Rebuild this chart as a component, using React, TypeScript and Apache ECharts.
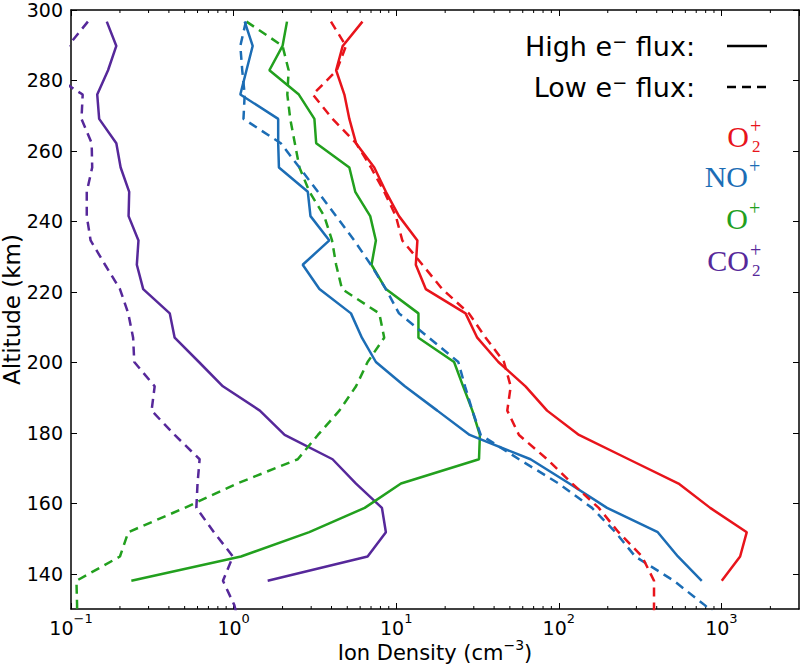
import React, { useEffect, useRef } from "react";
import * as echarts from "echarts";

// Altitude grids (km)
const ALT_HIGH = [296.7, 289.8, 282.9, 276.0, 269.1, 262.2, 255.3, 248.4, 241.5, 234.6, 227.7, 220.8, 213.9, 207.0, 200.1, 193.2, 186.3, 179.4, 172.5, 165.6, 158.7, 151.8, 144.9, 138.0];
const ALT_LOW = [296.7, 289.8, 282.9, 276.0, 269.1, 262.2, 255.3, 248.4, 241.5, 234.6, 227.7, 220.8, 213.9, 207.0, 200.1, 193.2, 186.3, 179.4, 172.5, 165.6, 158.7, 151.8, 144.9, 138.0, 131.1, 124.2];

// Ion densities (cm^-3)
const O2_HIGH = [6.2, 4.69, 4.27, 4.8, 5.15, 5.66, 7.33, 8.64, 10.4, 13.5, 13.2, 15.2, 26.7, 31.5, 42.5, 62.4, 84.7, 133, 269, 545, 853, 1432, 1303, 1005];
const O2_LOW = [3.97, 4.91, 4.31, 3.07, 4.06, 5.66, 7.0, 8.44, 9.95, 10.9, 14.5, 19.2, 28.0, 35.5, 46, 50.6, 48.2, 56.9, 84.7, 121, 176, 233, 325, 385, 385, 385];
const NO_HIGH = [1.17, 1.31, 1.2, 1.1, 1.88, 1.88, 1.9, 2.86, 2.97, 3.88, 2.66, 3.37, 5.27, 6.15, 7.5, 11.3, 17.9, 28.3, 67, 116, 198, 406, 540, 757];
const NO_LOW = [1.19, 1.1, 1.13, 1.17, 1.15, 1.95, 2.54, 3.3, 4.27, 5.52, 6.98, 8.64, 10.4, 15.9, 24.1, 26.5, 29.4, 33.1, 56.9, 100, 160, 223, 295, 510, 790, 1150];
const OP_HIGH = [2.13, 2.0, 1.66, 2.52, 3.14, 3.22, 5.15, 5.6, 6.92, 7.5, 7.05, 8.64, 13.7, 13.7, 22.7, 25.8, 29.4, 32.7, 32.3, 10.7, 6.4, 2.92, 1.11, 0.235];
const OP_LOW = [1.2, 2.0, 2.18, 2.14, 2.23, 2.38, 2.54, 2.93, 3.61, 4.03, 4.27, 4.64, 7.87, 8.44, 6.67, 5.66, 4.47, 3.3, 2.48, 1.05, 0.5, 0.225, 0.2, 0.108, 0.109, 0.109];
const CO2_HIGH = [0.166, 0.19, 0.169, 0.145, 0.149, 0.19, 0.202, 0.228, 0.226, 0.26, 0.254, 0.278, 0.405, 0.434, 0.612, 0.859, 1.45, 2.06, 4.06, 5.66, 8.17, 8.64, 6.67, 1.62];
const CO2_LOW = [0.127, 0.096, 0.069, 0.118, 0.116, 0.134, 0.135, 0.125, 0.125, 0.132, 0.162, 0.2, 0.225, 0.241, 0.245, 0.327, 0.313, 0.434, 0.618, 0.6, 0.59, 0.757, 0.99, 0.86, 1.01, 1.1];

const Y_TICKS = [140, 160, 180, 200, 220, 240, 260, 280, 300];
const X_MIN = 0.1;
const X_MAX = 3000;

const RED = "#e8141b";
const BLUE = "#1c6db5";
const GREEN = "#22a01e";
const PURPLE = "#56289a";

const SANS = '"DejaVu Sans", sans-serif';
const SERIF = '"Liberation Serif", serif';

export default function App() {
  const ref = useRef<HTMLDivElement>(null);

  useEffect(() => {
    if (!ref.current) return;
    const chart = echarts.init(ref.current, null, { renderer: "svg" });

    const minorTicks: number[][] = [];
    for (let e = -1; e <= 3; e++) {
      for (let m = 2; m <= 9; m++) {
        const v = m * Math.pow(10, e);
        if (v < X_MAX) minorTicks.push([v, 200]);
      }
    }

    const mk = (name: string, xs: number[], alts: number[], color: string, dashed: boolean) => ({
      type: "line",
      name,
      data: xs.map((v, i) => [v, alts[i]]),
      symbol: "none",
      showSymbol: false,
      clip: true,
      z: 3,
      lineStyle: { color, width: 2.5, type: dashed ? [9, 6] : "solid", cap: "butt" },
      itemStyle: { color },
    });

    const xLabelFmt = (v: number) => {
      const l = Math.log10(v);
      const e = Math.round(l);
      if (Math.abs(l - e) > 1e-6) return "";
      return `{b|10}{s|${e < 0 ? "\u2212" + -e : e}}`;
    };

    const axisLine = { show: true, onZero: false, lineStyle: { color: "#000", width: 1.5 } };
    const tickStyle = { color: "#000", width: 1 };

    const supText = (main: string, sub: string | null, color: string, xr: number, yc: number) => {
      const children: any[] = [
        {
          type: "text",
          x: xr,
          y: yc,
          style: { text: main, font: `30px ${SERIF}`, fill: color, align: "right", verticalAlign: "middle" },
        },
        {
          type: "text",
          x: xr + 1,
          y: yc - 10,
          style: { text: "+", font: `20px ${SERIF}`, fill: color, align: "left", verticalAlign: "middle", lineHeight: 16 },
        },
      ];
      if (sub) {
        children.push({
          type: "text",
          x: xr + 3,
          y: yc + 10,
          style: { text: sub, font: `17px ${SERIF}`, fill: color, align: "left", verticalAlign: "middle", lineHeight: 15 },
        });
      }
      return { type: "group", children };
    };

    const option: any = {
      animation: false,
      backgroundColor: "#fff",
      grid: { left: 71, right: 1, top: 10, bottom: 57, containLabel: false, outerBoundsMode: "none" },
      xAxis: [
        {
          type: "log",
          logBase: 10,
          min: X_MIN,
          max: X_MAX,
          position: "bottom",
          axisLine,
          axisTick: { show: true, inside: true, length: 6, lineStyle: tickStyle },
          splitLine: { show: false },
          axisLabel: {
            formatter: xLabelFmt,
            margin: 3,
            color: "#000",
            showMaxLabel: false,
            rich: {
              b: { fontSize: 19, fontFamily: SANS, color: "#000", lineHeight: 25, verticalAlign: "bottom" },
              s: { fontSize: 13, fontFamily: SANS, color: "#000", lineHeight: 13, verticalAlign: "top" },
            },
          },
          name: "{a|Ion Density (cm}{s|\u22123}{a|)}",
          nameLocation: "middle",
          nameGap: 29,
          nameMoveOverlap: false,
          nameTextStyle: {
            rich: {
              a: { fontSize: 21, fontFamily: SANS, color: "#000", lineHeight: 25, verticalAlign: "bottom" },
              s: { fontSize: 14, fontFamily: SANS, color: "#000", lineHeight: 14, verticalAlign: "top" },
            },
          },
        },
        {
          type: "log",
          logBase: 10,
          min: X_MIN,
          max: X_MAX,
          position: "top",
          axisLine,
          axisTick: { show: true, inside: true, length: 6, lineStyle: tickStyle },
          splitLine: { show: false },
          axisLabel: { show: false },
        },
      ],
      yAxis: [
        {
          type: "value",
          min: 130,
          max: 300,
          position: "left",
          axisLine,
          axisTick: { show: true, inside: true, length: 6, lineStyle: tickStyle, customValues: Y_TICKS },
          splitLine: { show: false },
          axisLabel: { customValues: Y_TICKS, fontSize: 19, fontFamily: SANS, color: "#000", margin: 8 },
          name: "Altitude (km)",
          nameLocation: "middle",
          nameRotate: 90,
          nameGap: 48,
          nameMoveOverlap: false,
          nameTextStyle: { fontSize: 23, fontFamily: SANS, color: "#000" },
        },
        {
          type: "value",
          min: 130,
          max: 300,
          position: "right",
          axisLine,
          axisTick: { show: true, inside: true, length: 6, lineStyle: tickStyle, customValues: Y_TICKS },
          splitLine: { show: false },
          axisLabel: { show: false },
        },
      ],
      series: [
        mk("CO2+ low", CO2_LOW, ALT_LOW, PURPLE, true),
        mk("CO2+ high", CO2_HIGH, ALT_HIGH, PURPLE, false),
        mk("O+ low", OP_LOW, ALT_LOW, GREEN, true),
        mk("O+ high", OP_HIGH, ALT_HIGH, GREEN, false),
        mk("NO+ low", NO_LOW, ALT_LOW, BLUE, true),
        mk("NO+ high", NO_HIGH, ALT_HIGH, BLUE, false),
        mk("O2+ low", O2_LOW, ALT_LOW, RED, true),
        mk("O2+ high", O2_HIGH, ALT_HIGH, RED, false),
        {
          type: "custom",
          silent: true,
          clip: false,
          data: minorTicks,
          renderItem: (params: any, api: any) => {
            const x = api.coord([api.value(0), api.value(1)])[0];
            const cs = params.coordSys;
            return {
              type: "group",
              children: [
                { type: "line", shape: { x1: x, y1: cs.y + cs.height, x2: x, y2: cs.y + cs.height - 3 }, style: { stroke: "#000", lineWidth: 1 } },
                { type: "line", shape: { x1: x, y1: cs.y, x2: x, y2: cs.y + 3 }, style: { stroke: "#000", lineWidth: 1 } },
              ],
            };
          },
        },
      ],
      graphic: [
        {
          type: "text",
          x: 695,
          y: 46,
          style: {
            text: "High e{s|\u2212} flux:",
            font: `27px ${SANS}`,
            fill: "#000",
            align: "right",
            verticalAlign: "middle",
            rich: { s: { fontSize: 18, fontFamily: SANS, fill: "#000", verticalAlign: "top", lineHeight: 18, padding: [0, 0, 12, 0] } },
          },
        },
        {
          type: "text",
          x: 695,
          y: 87,
          style: {
            text: "Low e{s|\u2212} flux:",
            font: `27px ${SANS}`,
            fill: "#000",
            align: "right",
            verticalAlign: "middle",
            rich: { s: { fontSize: 18, fontFamily: SANS, fill: "#000", verticalAlign: "top", lineHeight: 18, padding: [0, 0, 12, 0] } },
          },
        },
        { type: "line", shape: { x1: 727, y1: 46, x2: 767, y2: 46 }, style: { stroke: "#000", lineWidth: 2.5 } },
        { type: "line", shape: { x1: 727, y1: 87, x2: 767, y2: 87 }, style: { stroke: "#000", lineWidth: 2.5, lineDash: [9, 6] } },
        supText("O", "2", RED, 749, 136),
        supText("NO", null, BLUE, 748, 176),
        supText("O", null, GREEN, 748, 218),
        supText("CO", "2", PURPLE, 749, 260),
      ],
    };

    chart.setOption(option);
    return () => chart.dispose();
  }, []);

  return <div ref={ref} style={{ position: "absolute", left: 0, top: 0, width: 800, height: 666 }} />;
}
